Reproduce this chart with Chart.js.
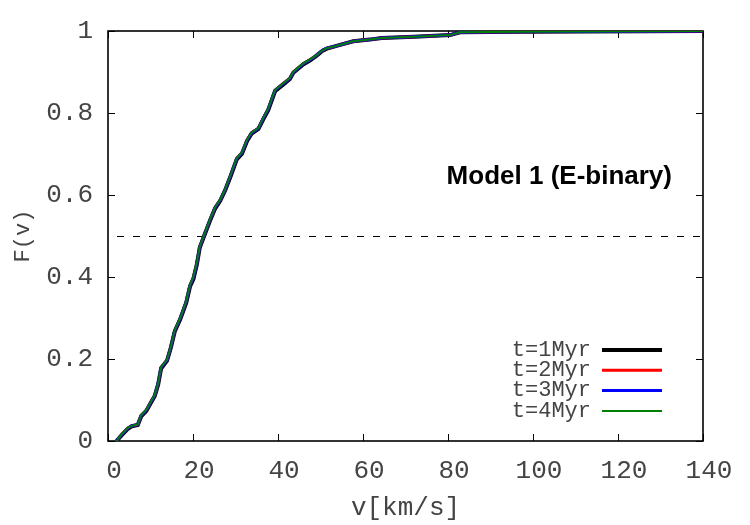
<!DOCTYPE html>
<html><head><meta charset="utf-8">
<script src="https://cdn.jsdelivr.net/npm/chart.js@4/dist/chart.umd.min.js"></script>
<style>html,body{margin:0;padding:0;background:#fff}canvas{display:block}</style>
</head><body>
<canvas id="c" width="750" height="525"></canvas>
<script>
// ---- data ----
const velocity = [2.0, 3.3, 4.7, 5.6, 7.0, 7.8, 9.0, 9.8, 11.0, 11.8, 12.5, 13.9, 14.8, 15.7, 17.0, 18.4, 19.3, 20.1, 20.9, 21.6, 22.8, 24.0, 25.2, 26.4, 27.5, 28.9, 30.3, 31.5, 32.7, 33.8, 35.4, 36.5, 37.7, 39.3, 41.2, 42.8, 43.6, 46.0, 47.5, 49.1, 50.5, 51.5, 54.6, 57.7, 61.6, 64.4, 72.0, 80.5, 82.8, 97.0, 140.0];
const cdf1Myr = [0.000, 0.015, 0.030, 0.036, 0.039, 0.060, 0.073, 0.088, 0.110, 0.138, 0.177, 0.196, 0.228, 0.267, 0.297, 0.337, 0.377, 0.395, 0.430, 0.472, 0.505, 0.537, 0.567, 0.586, 0.610, 0.647, 0.687, 0.700, 0.731, 0.750, 0.761, 0.784, 0.807, 0.853, 0.869, 0.883, 0.898, 0.919, 0.928, 0.940, 0.952, 0.957, 0.966, 0.975, 0.979, 0.983, 0.986, 0.990, 0.997, 0.998, 1.000];
const cdf2Myr = [0.000, 0.017, 0.032, 0.037, 0.040, 0.063, 0.075, 0.090, 0.112, 0.140, 0.180, 0.198, 0.230, 0.270, 0.300, 0.340, 0.380, 0.400, 0.434, 0.474, 0.507, 0.540, 0.570, 0.588, 0.612, 0.650, 0.690, 0.703, 0.734, 0.752, 0.763, 0.787, 0.810, 0.856, 0.872, 0.885, 0.900, 0.921, 0.930, 0.941, 0.953, 0.958, 0.966, 0.975, 0.979, 0.983, 0.986, 0.990, 0.997, 0.998, 1.000];
const cdf3Myr = [0.000, 0.016, 0.031, 0.037, 0.040, 0.062, 0.074, 0.089, 0.111, 0.139, 0.179, 0.197, 0.229, 0.269, 0.299, 0.339, 0.379, 0.398, 0.432, 0.473, 0.506, 0.539, 0.569, 0.587, 0.611, 0.649, 0.689, 0.702, 0.733, 0.751, 0.762, 0.786, 0.809, 0.855, 0.871, 0.884, 0.899, 0.920, 0.929, 0.941, 0.953, 0.958, 0.966, 0.975, 0.979, 0.983, 0.986, 0.990, 0.997, 0.998, 1.000];
const cdf4Myr = [0.000, 0.017, 0.032, 0.037, 0.040, 0.063, 0.075, 0.090, 0.112, 0.140, 0.180, 0.198, 0.230, 0.270, 0.300, 0.340, 0.380, 0.400, 0.434, 0.474, 0.507, 0.540, 0.570, 0.588, 0.612, 0.650, 0.690, 0.703, 0.734, 0.752, 0.763, 0.787, 0.810, 0.856, 0.872, 0.885, 0.900, 0.921, 0.930, 0.941, 0.953, 0.958, 0.966, 0.975, 0.979, 0.983, 0.986, 0.990, 0.997, 0.998, 1.000];
const seriesLabels = ['t=1Myr', 't=2Myr', 't=3Myr', 't=4Myr'];
const seriesValues = [cdf1Myr, cdf2Myr, cdf3Myr, cdf4Myr];
const xRange = [0, 140];
const yRange = [0, 1];
const halfLevel = 0.5;
const modelLabel = 'Model 1 (E-binary)';
const xTitle = 'v[km/s]';
const yTitle = 'F(v)';

// ---- styles ----
const seriesColors = ['#000000', '#ff0000', '#0000ff', '#008000'];
const seriesWidths = [4, 3, 3, 2];
const MONO = '"Liberation Mono", "DejaVu Sans Mono", monospace';
const TXT = '#444444';

const datasets = seriesValues.map((vals, i) => ({
  label: seriesLabels[i],
  data: velocity.map((v, k) => ({x: v, y: vals[k]})),
  borderColor: seriesColors[i],
  borderWidth: seriesWidths[i],
  showLine: true, pointRadius: 0, fill: false, tension: 0,
  order: 10 - i
}));

const framePlugin = {
  id: 'frame',
  beforeDatasetsDraw(chart) {
    const {ctx, chartArea: a, scales: {x, y}} = chart;
    ctx.save();
    ctx.strokeStyle = '#000';
    ctx.lineWidth = 1.6;
    ctx.strokeRect(a.left, a.top, a.right - a.left, a.bottom - a.top);
    ctx.lineWidth = 1;
    const L = 7;
    ctx.beginPath();
    x.ticks.forEach(t => {
      const px = Math.round(x.getPixelForValue(t.value)) + 0.5;
      ctx.moveTo(px, a.bottom); ctx.lineTo(px, a.bottom - L);
      ctx.moveTo(px, a.top); ctx.lineTo(px, a.top + L);
    });
    y.ticks.forEach(t => {
      const py = Math.round(y.getPixelForValue(t.value)) + 0.5;
      ctx.moveTo(a.left, py); ctx.lineTo(a.left + L, py);
      ctx.moveTo(a.right, py); ctx.lineTo(a.right - L, py);
    });
    ctx.stroke();
    // dashed reference level
    const hy = Math.round(y.getPixelForValue(halfLevel)) + 0.5;
    ctx.beginPath();
    ctx.setLineDash([7, 9]);
    ctx.lineDashOffset = 7;
    ctx.moveTo(x.getPixelForValue(xRange[0]), hy);
    ctx.lineTo(x.getPixelForValue(xRange[1]), hy);
    ctx.stroke();
    ctx.setLineDash([]);
    ctx.restore();
  },
  afterDraw(chart) {
    const {ctx, scales: {x, y}} = chart;
    ctx.save();
    // model label
    ctx.font = 'bold 26px "Liberation Sans", Arial, sans-serif';
    ctx.fillStyle = '#000';
    ctx.textAlign = 'right';
    ctx.textBaseline = 'middle';
    ctx.fillText(modelLabel, x.getPixelForValue(132.7), y.getPixelForValue(0.644));
    // legend
    ctx.font = '22px ' + MONO;
    ctx.fillStyle = TXT;
    const textRight = 591, lineL = 602, lineR = 662, top = 350, step = 20.3;
    seriesLabels.forEach((lab, i) => {
      const yy = top + i * step;
      ctx.fillText(lab, textRight, yy);
      ctx.beginPath();
      ctx.strokeStyle = seriesColors[i];
      ctx.lineWidth = seriesWidths[i];
      ctx.moveTo(lineL, yy); ctx.lineTo(lineR, yy);
      ctx.stroke();
    });
    ctx.restore();
  }
};

new Chart(document.getElementById('c'), {
  type: 'scatter',
  data: {datasets},
  options: {
    responsive: false, animation: false, devicePixelRatio: 1,
    layout: {padding: {top: 31, right: 47, left: 0, bottom: 0}},
    plugins: {legend: {display: false}, tooltip: {enabled: false}},
    scales: {
      x: {
        type: 'linear', min: xRange[0], max: xRange[1],
        grid: {display: false}, border: {display: false},
        ticks: {stepSize: 20, font: {family: MONO, size: 26}, color: TXT, padding: 7, labelOffset: 6, maxRotation: 0},
        title: {display: true, text: xTitle, font: {family: MONO, size: 26}, color: TXT, padding: {top: 0, bottom: 1}},
        afterFit(s) { s.height = 84; }
      },
      y: {
        type: 'linear', min: yRange[0], max: yRange[1],
        grid: {display: false}, border: {display: false},
        ticks: {stepSize: 0.2, font: {family: MONO, size: 26}, color: TXT, padding: 7,
                callback: v => String(+v.toFixed(1))},
        title: {display: true, text: yTitle, font: {family: MONO, size: 22}, color: TXT, padding: {top: 10, bottom: 0}},
        afterFit(s) { s.width = 108; }
      }
    }
  },
  plugins: [framePlugin]
});
</script>
</body></html>
